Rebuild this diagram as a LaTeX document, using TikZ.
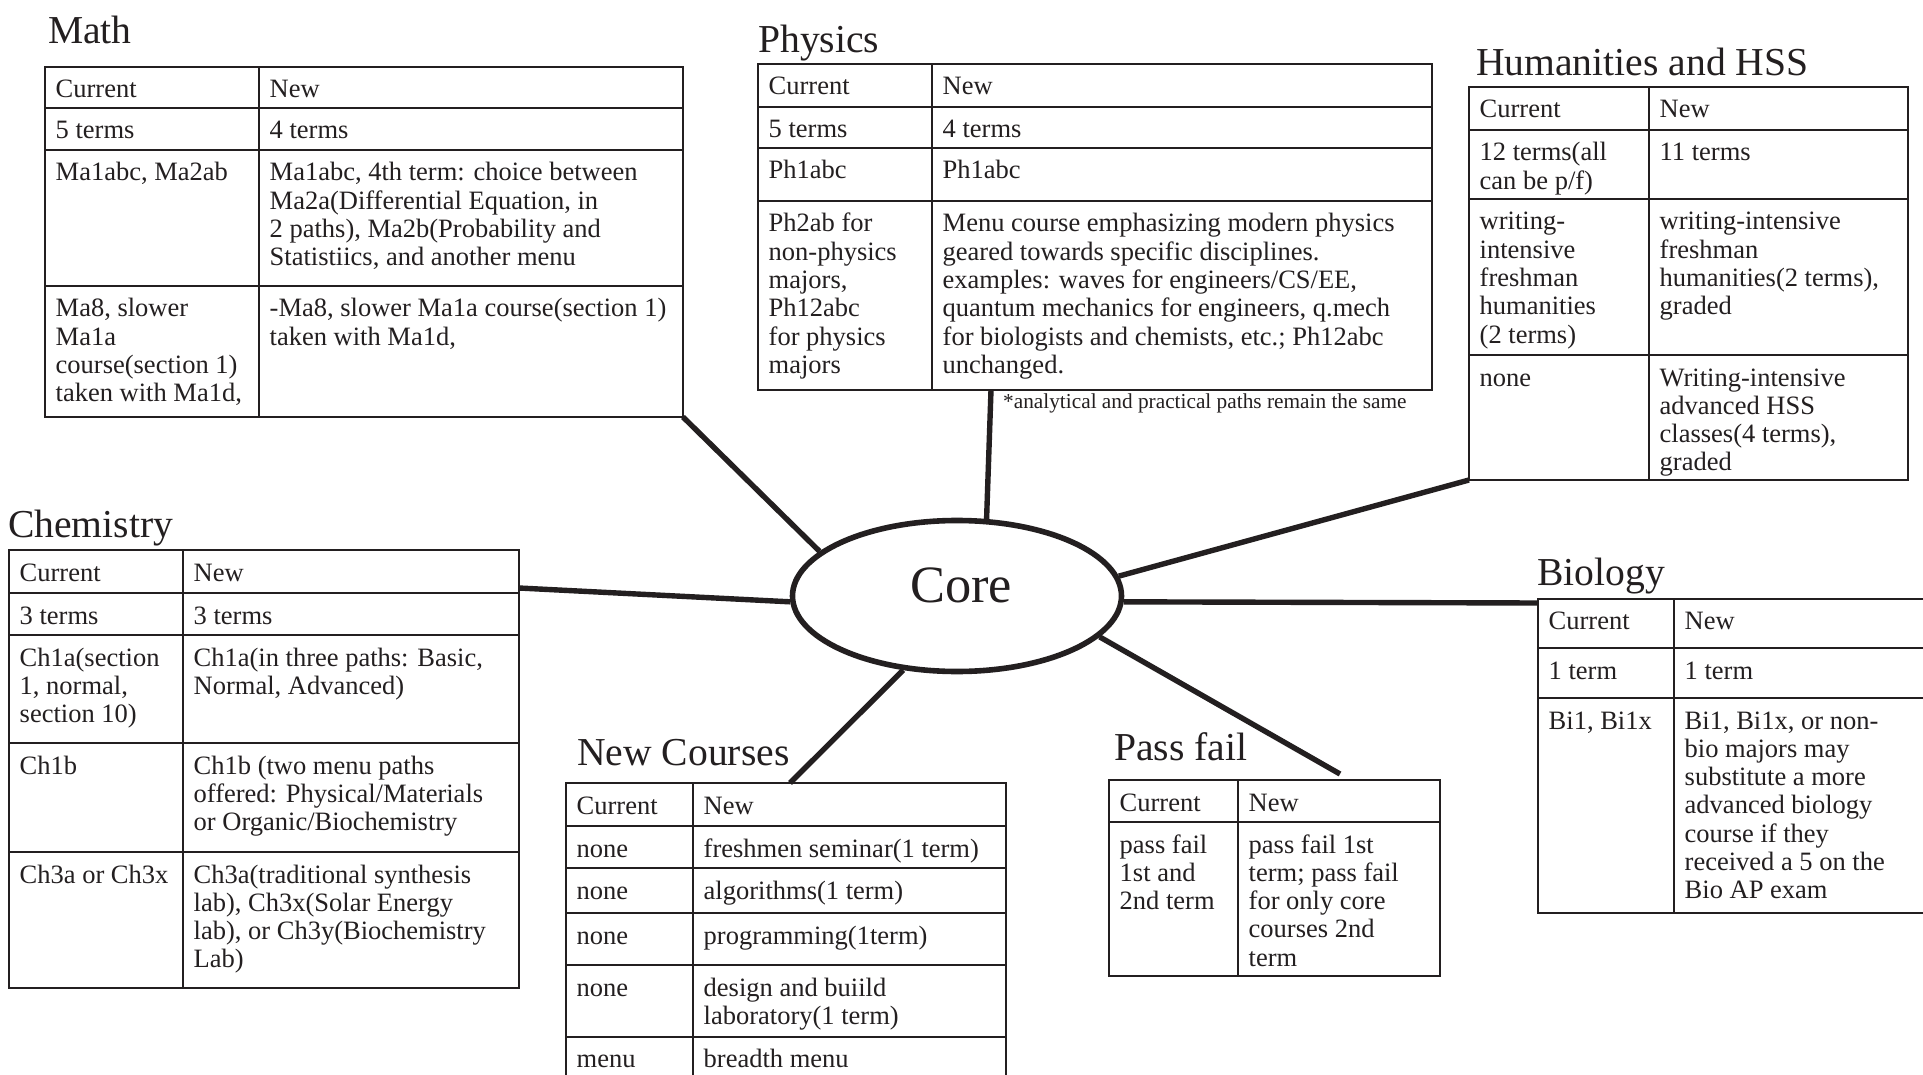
\documentclass[tikz,border=0pt]{standalone}
\usepackage{fontspec}
\setmainfont{Liberation Serif}
\usetikzlibrary{calc,shapes.geometric}
\definecolor{ink}{RGB}{35,31,32}
\newcommand{\celltxt}[1]{\begin{tabular}[t]{@{}l@{}}#1\end{tabular}}
\begin{document}
\begin{tikzpicture}[x=1pt,y=-1pt,
  tbl/.style={draw=ink, line width=2.6pt, anchor=north west, inner sep=0pt, outer sep=0pt},
  rule/.style={draw=ink, line width=2.6pt},
  cell/.style={anchor=base west, inner sep=0pt, text=ink, font=\fontsize{26.5}{28.3}\selectfont},
  ttl/.style={anchor=base west, inner sep=0pt, text=ink, font=\fontsize{39.6}{44}\selectfont},
  conn/.style={draw=ink, line width=5.4pt},
]
\useasboundingbox (0,0) rectangle (1923,1075);
\clip (0,0) rectangle (1923,1075);
\fill[white] (0,0) rectangle (1923,1075);

% ---------------- Core ----------------
\node[draw=ink, ellipse, line width=5.6pt, minimum width=329pt, minimum height=151pt,
      inner sep=0pt, text=ink, font=\fontsize{52.4}{56}\selectfont,
      text height=35pt, text depth=22pt] (core) at (957,596) {\hspace*{8pt}Core};

% ---------------- Math ----------------
\node[ttl] (mathTitle) at (48,44) {Math};
\node[tbl, minimum width=638pt, minimum height=350pt] (mathT) at (45,67) {};
\draw[rule] (259,67) -- (259,417);
\draw[rule] (45,108) -- (683,108) (45,150) -- (683,150) (45,286) -- (683,286);
\node[cell] (m11) at (55.5,98) {Current};
\node[cell] (m12) at (269.5,98) {New};
\node[cell] (m21) at (55.5,139) {5 terms};
\node[cell] (m22) at (269.5,139) {4 terms};
\node[cell] (m31) at (55.5,181) {Ma1abc, Ma2ab};
\node[cell] (m32) at (269.5,181) {\celltxt{Ma1abc, 4th term: choice between\\Ma2a(Differential Equation, in\\2 paths), Ma2b(Probability and\\Statistiics, and another menu}};
\node[cell] (m41) at (55.5,317) {\celltxt{Ma8, slower\\Ma1a\\course(section 1)\\taken with Ma1d,}};
\node[cell] (m42) at (269.5,317) {\celltxt{-Ma8, slower Ma1a course(section 1)\\taken with Ma1d,}};

% ---------------- Physics ----------------
\node[ttl] (physTitle) at (758,53) {Physics};
\node[tbl, minimum width=674pt, minimum height=326pt] (physT) at (758,64) {};
\draw[rule] (932,64) -- (932,390);
\draw[rule] (758,107) -- (1432,107) (758,148) -- (1432,148) (758,201) -- (1432,201);
\node[cell] (p11) at (768.5,95) {Current};
\node[cell] (p12) at (942.5,95) {New};
\node[cell] (p21) at (768.5,138) {5 terms};
\node[cell] (p22) at (942.5,138) {4 terms};
\node[cell] (p31) at (768.5,179) {Ph1abc};
\node[cell] (p32) at (942.5,179) {Ph1abc};
\node[cell] (p41) at (768.5,232) {\celltxt{Ph2ab for\\non-physics\\majors,\\Ph12abc\\for physics\\majors}};
\node[cell] (p42) at (942.5,232) {\celltxt{Menu course emphasizing modern physics\\geared towards specific disciplines.\\examples: waves for engineers/CS/EE,\\quantum mechanics for engineers, q.mech\\for biologists and chemists, etc.; Ph12abc\\unchanged.}};
\node[anchor=base west, inner sep=0pt, text=ink, font=\fontsize{21.3}{24}\selectfont] (physNote) at (1003,408) {*analytical and practical paths remain the same};

% ---------------- Humanities ----------------
\node[ttl] (humTitle) at (1476,76) {Humanities and HSS};
\node[tbl, minimum width=439pt, minimum height=393pt] (humT) at (1469,87) {};
\draw[rule] (1649,87) -- (1649,480);
\draw[rule] (1469,130) -- (1908,130) (1469,199) -- (1908,199) (1469,355) -- (1908,355);
\node[cell] (h11) at (1479.5,118) {Current};
\node[cell] (h12) at (1659.5,118) {New};
\node[cell] (h21) at (1479.5,161) {\celltxt{12 terms(all\\can be p/f)}};
\node[cell] (h22) at (1659.5,161) {11 terms};
\node[cell] (h31) at (1479.5,230) {\celltxt{writing-\\intensive\\freshman\\humanities\\(2 terms)}};
\node[cell] (h32) at (1659.5,230) {\celltxt{writing-intensive\\freshman\\humanities(2 terms),\\graded}};
\node[cell] (h41) at (1479.5,386) {none};
\node[cell] (h42) at (1659.5,386) {\celltxt{Writing-intensive\\advanced HSS\\classes(4 terms),\\graded}};

% ---------------- Chemistry ----------------
\node[ttl] (chemTitle) at (8,537) {Chemistry};
\node[tbl, minimum width=510pt, minimum height=438pt] (chemT) at (9,550) {};
\draw[rule] (183,550) -- (183,988);
\draw[rule] (9,593) -- (519,593) (9,635) -- (519,635) (9,743) -- (519,743) (9,852) -- (519,852);
\node[cell] (c11) at (19.5,581) {Current};
\node[cell] (c12) at (193.5,581) {New};
\node[cell] (c21) at (19.5,624) {3 terms};
\node[cell] (c22) at (193.5,624) {3 terms};
\node[cell] (c31) at (19.5,666) {\celltxt{Ch1a(section\\1, normal,\\section 10)}};
\node[cell] (c32) at (193.5,666) {\celltxt{Ch1a(in three paths: Basic,\\Normal, Advanced)}};
\node[cell] (c41) at (19.5,774) {Ch1b};
\node[cell] (c42) at (193.5,774) {\celltxt{Ch1b (two menu paths\\offered: Physical/Materials\\or Organic/Biochemistry}};
\node[cell] (c51) at (19.5,883) {Ch3a or Ch3x};
\node[cell] (c52) at (193.5,883) {\celltxt{Ch3a(traditional synthesis\\lab), Ch3x(Solar Energy\\lab), or Ch3y(Biochemistry\\Lab)}};

% ---------------- New Courses ----------------
\node[ttl] (ncTitle) at (577,765) {New Courses};
\node[tbl, minimum width=440pt, minimum height=340pt] (ncT) at (566,783) {};
\draw[rule] (693,783) -- (693,1123);
\draw[rule] (566,826) -- (1006,826) (566,868) -- (1006,868) (566,913) -- (1006,913)
            (566,965) -- (1006,965) (566,1037) -- (1006,1037);
\node[cell] (n11) at (576.5,814) {Current};
\node[cell] (n12) at (703.5,814) {New};
\node[cell] (n21) at (576.5,857) {none};
\node[cell] (n22) at (703.5,857) {freshmen seminar(1 term)};
\node[cell] (n31) at (576.5,899) {none};
\node[cell] (n32) at (703.5,899) {algorithms(1 term)};
\node[cell] (n41) at (576.5,944) {none};
\node[cell] (n42) at (703.5,944) {programming(1term)};
\node[cell] (n51) at (576.5,996) {none};
\node[cell] (n52) at (703.5,996) {\celltxt{design and buiild\\laboratory(1 term)}};
\node[cell] (n61) at (576.5,1067) {menu};
\node[cell] (n62) at (703.5,1067) {breadth menu};

% ---------------- Pass fail ----------------
\node[ttl] (pfTitle) at (1114,760) {Pass fail};
\node[tbl, minimum width=331pt, minimum height=196pt] (pfT) at (1109,780) {};
\draw[rule] (1238,780) -- (1238,976);
\draw[rule] (1109,822) -- (1440,822);
\node[cell] (f11) at (1119.5,811) {Current};
\node[cell] (f12) at (1248.5,811) {New};
\node[cell] (f21) at (1119.5,853) {\celltxt{pass fail\\1st and\\2nd term}};
\node[cell] (f22) at (1248.5,853) {\celltxt{pass fail 1st\\term; pass fail\\for only core\\courses 2nd\\term}};

% ---------------- Biology ----------------
\node[ttl] (bioTitle) at (1537,585) {Biology};
\node[tbl, minimum width=420pt, minimum height=314pt] (bioT) at (1538,599) {};
\draw[rule] (1674,599) -- (1674,913);
\draw[rule] (1538,648) -- (1958,648) (1538,698) -- (1958,698);
\node[cell] (b11) at (1548.5,629) {Current};
\node[cell] (b12) at (1684.5,629) {New};
\node[cell] (b21) at (1548.5,679) {1 term};
\node[cell] (b22) at (1684.5,679) {1 term};
\node[cell] (b31) at (1548.5,729) {Bi1, Bi1x};
\node[cell] (b32) at (1684.5,729) {\celltxt{Bi1, Bi1x, or non-\\bio majors may\\substitute a more\\advanced biology\\course if they\\received a 5 on the\\Bio AP exam}};

% ---------------- Connectors ----------------
\draw[conn] (mathT.south east) -- (core.162);
\draw[conn] ($(physT.south west)+(233,0)$) -- (core.69);
\draw[conn] (humT.south west) -- (core.7);
\draw[conn] ($(chemT.north east)+(0,38)$) -- (core.182);
\draw[conn] (core.-2.5) -- ($(bioT.north west)+(0,4)$);
\draw[conn] (core.-16) -- ($(pfT.north west)+(231,-6)$);
\draw[conn] ($(ncT.north west)+(224,0)$) -- (core.234);
\end{tikzpicture}
\end{document}
